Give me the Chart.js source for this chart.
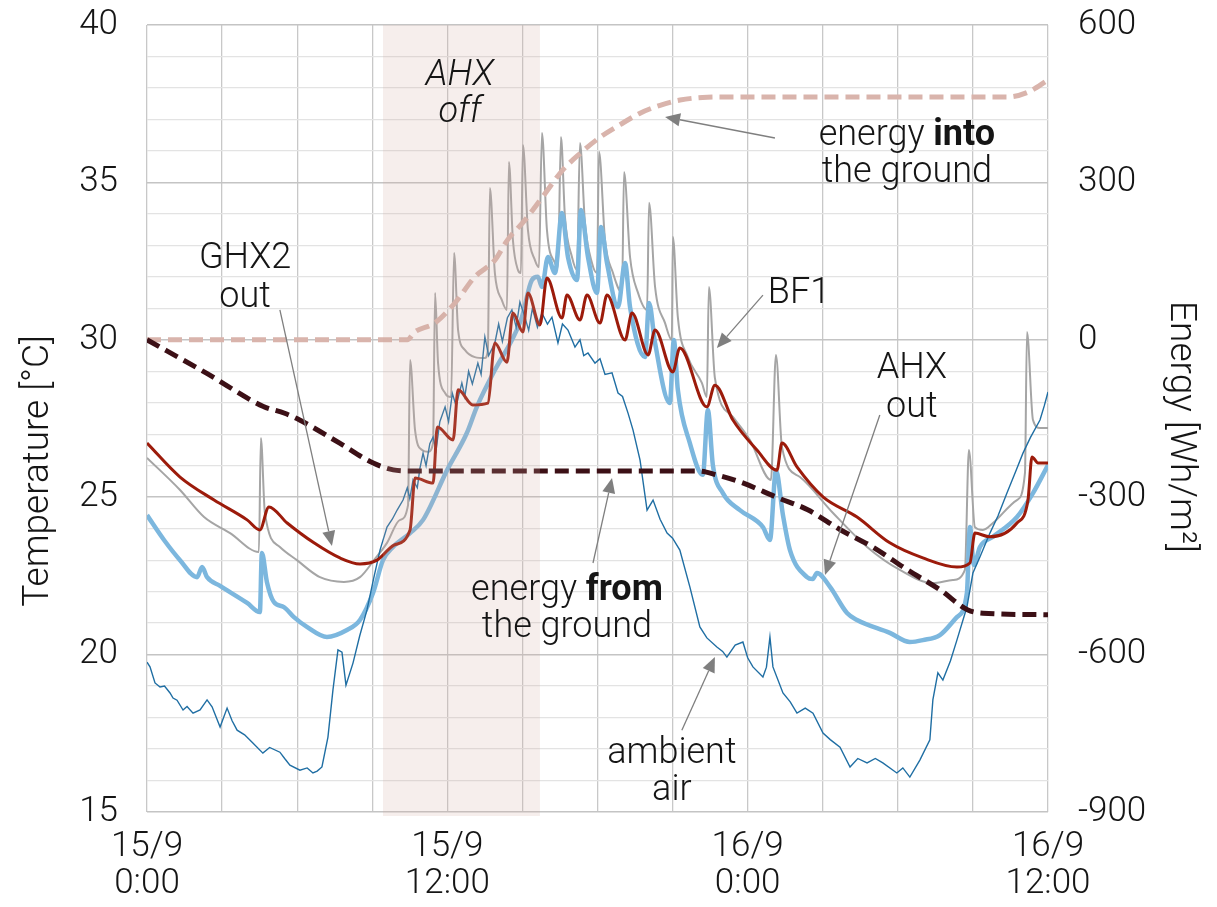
<!DOCTYPE html>
<html>
<head>
<meta charset="utf-8">
<script src="https://cdn.jsdelivr.net/npm/chart.js@4.4.0/dist/chart.umd.min.js"></script>
<style>
  html, body { margin: 0; background: #fff; }
  #wrap { width: 1217px; height: 907px; }
</style>
</head>
<body>
<div id="wrap"><canvas id="myChart" width="1217" height="907"></canvas></div>
<script>
// x values are hours since 15/9 0:00
var tickHours = [0, 12, 24, 36];
var tickDates = ['15/9', '15/9', '16/9', '16/9'];
var tickTimes = ['0:00', '12:00', '0:00', '12:00'];

// AHX switched off (hours)
var ahxOffStart = 9.43;
var ahxOffEnd = 15.7;

// ambient air [°C]
var airHours = [0, 0.12, 0.32, 0.52, 0.7, 0.92, 1.04, 1.2, 1.44, 1.6, 1.84, 2.12, 2.4, 2.6, 2.92, 3.2, 3.4, 3.6, 3.9, 4.23,
  4.63, 4.9, 5.31, 5.5, 5.71, 6.11, 6.4, 6.63, 6.8, 6.99, 7.23, 7.43, 7.63, 7.79, 7.95, 8.23, 8.5, 8.79, 9.05, 9.31,
  9.59, 9.8, 10.0, 10.23, 10.4, 10.5, 10.63, 10.8, 10.9, 11.03, 11.15, 11.3, 11.43, 11.55, 11.7, 11.91, 12.05, 12.2, 12.35, 12.58,
  12.7, 12.85, 13.0, 13.22, 13.35, 13.5, 13.65, 13.9, 14.05, 14.2, 14.4, 14.58, 14.75, 14.9, 15.1, 15.25, 15.4, 15.6, 15.78, 16.0,
  16.18, 16.42, 16.6, 16.82, 17.1, 17.3, 17.45, 17.62, 17.9, 18.1, 18.3, 18.58, 18.82, 19.0, 19.22, 19.42, 19.7, 19.98, 20.22, 20.5,
  20.78, 21.0, 21.29, 21.69, 22.09, 22.37, 22.77, 23.0, 23.17, 23.5, 23.81, 24.0, 24.21, 24.61, 24.75, 24.89, 25.01, 25.41, 25.7, 25.97,
  26.3, 26.61, 27.01, 27.3, 27.69, 28.09, 28.4, 28.77, 29.1, 29.4, 29.96, 30.2, 30.48, 30.88, 31.28, 31.4, 31.6, 31.8, 32.1, 32.36,
  32.76, 33.0, 33.28, 33.68, 34.0, 34.36, 34.7, 35.0, 35.3, 35.68, 35.85, 36];
var airTemp = [19.76, 19.61, 19.1, 18.97, 19.0, 18.78, 18.62, 18.55, 18.24, 18.35, 18.14, 18.24, 18.56, 18.34, 17.7, 18.3, 17.9, 17.6, 17.45, 17.19,
  16.87, 17.05, 16.9, 16.7, 16.49, 16.33, 16.4, 16.24, 16.3, 16.43, 17.38, 18.88, 20.15, 20.08, 19.03, 19.73, 20.6, 21.42, 22.4, 23.32,
  24.05, 24.3, 24.6, 24.91, 25.3, 24.95, 25.55, 25.3, 25.9, 26.4, 26.0, 26.7, 26.91, 26.5, 27.4, 27.87, 27.4, 28.3, 27.9, 28.63,
  28.2, 29.0, 28.6, 29.26, 28.9, 30.09, 29.5, 29.9, 30.5, 29.95, 30.7, 30.95, 30.4, 31.2, 30.72, 30.3, 31.0, 30.4, 30.85, 30.5,
  30.72, 29.9, 30.5, 30.31, 29.77, 30.0, 29.5, 29.58, 29.26, 29.4, 28.9, 28.95, 28.31, 28.2, 27.67, 27.13, 26.18, 24.59, 24.91, 24.3,
  23.86, 23.7, 23.32, 22.15, 20.88, 20.53, 20.24, 20.1, 19.92, 20.3, 20.4, 19.9, 19.61, 19.29, 19.6, 20.56, 19.61, 18.78, 18.5, 18.14,
  18.3, 18.14, 17.51, 17.3, 17.06, 16.43, 16.7, 16.56, 16.7, 16.56, 16.24, 16.4, 16.11, 16.65, 17.29, 18.56, 19.42, 19.19, 19.8, 20.46,
  21.51, 22.59, 23.1, 23.86, 24.4, 25.13, 25.8, 26.4, 26.9, 27.45, 27.9, 28.34];

// AHX out [°C]
var ahxHours = [0, 0.68, 1.32, 2.0, 2.2, 2.4, 2.92, 4.0, 4.51, 4.59, 4.79, 5.07, 5.47, 5.87, 6.39, 7.19, 7.99, 8.51, 9.03, 9.43,
  9.83, 10.51, 11.03, 11.99, 12.78, 13.18, 13.9, 14.58, 14.98, 15.38, 15.62, 15.78, 16.02, 16.3, 16.58, 16.82, 17.18, 17.34, 17.62, 17.98,
  18.14, 18.38, 18.82, 19.1, 19.3, 19.9, 20.06, 20.3, 20.89, 21.05, 21.21, 21.69, 22.21, 22.41, 22.61, 23.01, 23.69, 24.61, 24.89, 25.13,
  25.41, 25.69, 26.37, 26.6, 26.77, 27.29, 27.97, 28.37, 29.68, 30.48, 31.0, 31.68, 32.36, 32.76, 32.88, 33.04, 33.28, 33.8, 34.76, 35.4, 36];
var ahxTemp = [24.43, 23.64, 23.0, 22.46, 22.78, 22.46, 22.18, 21.64, 21.35, 23.23, 22.31, 21.67, 21.51, 21.19, 20.88, 20.56, 20.78, 21.1, 21.96, 23.0,
  23.42, 23.86, 24.28, 25.86, 27.04, 27.87, 29.04, 29.99, 30.72, 31.9, 32.0, 31.68, 32.63, 32.12, 34.03, 32.63, 31.9, 34.12, 32.63, 31.49,
  33.58, 32.44, 31.04, 32.44, 31.04, 29.45, 31.17, 29.9, 27.99, 29.99, 28.41, 26.72, 25.71, 27.77, 26.02, 25.13, 24.59, 24.05, 23.64, 25.86,
  24.43, 23.32, 22.46, 22.4, 22.59, 22.15, 21.32, 21.1, 20.69, 20.4, 20.46, 20.62, 21.19, 21.96, 24.05, 22.85, 23.42, 23.74, 24.37, 25.13, 26.02];

// BF1 [°C]
var bf1Hours = [0, 1.32, 2.28, 3.32, 4.47, 4.55, 4.71, 5.31, 5.99, 6.91, 7.87, 8.51, 9.07, 9.59, 10.11, 10.43, 10.51, 10.71, 10.99, 11.23,
  11.43, 11.51, 11.63, 11.91, 12.15, 12.27, 12.43, 12.7, 13.1, 13.5, 13.62, 13.7, 13.9, 14.18, 14.38, 14.46, 14.62, 14.82, 14.94, 15.02,
  15.22, 15.5, 15.66, 15.78, 15.98, 16.3, 16.42, 16.54, 16.7, 16.98, 17.18, 17.3, 17.5, 17.78, 17.98, 18.06, 18.3, 18.62, 18.98, 19.06,
  19.3, 19.62, 19.98, 20.06, 20.3, 20.7, 20.97, 21.01, 21.21, 21.61, 22.17, 22.37, 22.45, 22.69, 23.41, 24.09, 24.93, 25.13, 25.37, 26.09,
  27.41, 28.77, 30.08, 31.4, 32.2, 32.68, 32.84, 33.08, 33.4, 33.8, 34.76, 35.08, 35.16, 35.4, 35.68, 36];
var bf1Temp = [26.25, 25.23, 24.37, 23.86, 23.26, 26.88, 24.5, 23.42, 23.0, 22.46, 22.31, 22.46, 23.0, 23.55, 24.28, 24.75, 29.36, 27.13, 26.5, 26.44,
  26.72, 31.49, 29.26, 28.31, 28.18, 32.76, 30.31, 29.68, 29.45, 29.42, 29.68, 34.82, 32.12, 31.26, 30.95, 35.65, 33.17, 32.22, 32.12, 36.19,
  33.49, 32.53, 32.31, 36.57, 33.49, 32.44, 32.31, 36.44, 33.9, 32.63, 32.22, 36.25, 33.71, 32.44, 32.12, 35.97, 33.17, 32.12, 31.49, 35.33,
  32.63, 31.49, 30.95, 34.35, 31.68, 30.53, 29.99, 33.27, 30.72, 29.45, 28.63, 28.18, 31.68, 28.79, 27.55, 26.82, 25.55, 29.52, 26.59, 25.64,
  24.5, 23.42, 22.69, 22.27, 22.37, 22.69, 26.5, 24.05, 23.96, 24.18, 24.91, 25.77, 30.25, 27.45, 27.2, 27.2];

// GHX2 out [°C]
var ghxHours = [0, 1.32, 2.68, 4.0, 4.51, 4.87, 5.6, 6.67, 7.71, 8.51, 9.19, 9.87, 10.51, 10.71, 11.43, 11.6, 12.23, 12.43, 13.02, 13.62,
  13.9, 14.38, 14.62, 15.02, 15.22, 15.7, 15.98, 16.58, 16.78, 17.3, 17.58, 18.1, 18.38, 19.1, 19.38, 20.02, 20.3, 21.01, 21.29, 22.37,
  22.69, 23.41, 24.37, 25.17, 25.37, 25.97, 27.01, 28.37, 29.68, 31.0, 32.36, 32.88, 33.08, 33.68, 34.76, 35.2, 35.36, 35.6, 36];
var ghxTemp = [26.72, 25.64, 24.91, 24.28, 23.96, 24.69, 24.18, 23.55, 23.07, 22.88, 23.0, 23.48, 23.96, 25.61, 25.45, 27.23, 26.82, 28.41, 27.93, 27.99,
  29.9, 29.29, 30.85, 30.25, 31.49, 30.47, 31.96, 30.69, 31.42, 30.63, 31.42, 30.53, 31.42, 29.99, 30.85, 29.52, 30.31, 28.98, 29.74, 27.87,
  28.56, 27.45, 26.5, 25.86, 26.72, 25.96, 25.01, 24.37, 23.55, 23.07, 22.78, 22.91, 23.86, 23.74, 24.18, 24.91, 26.28, 26.09, 26.09];

// energy into the ground [Wh/m2]
var intoHours = [0, 10.4, 10.7, 11.5, 12.3, 13.1, 13.9, 14.4, 15.1, 15.8, 16.6, 17.3, 18.1, 18.9, 19.7, 20.5, 21.3, 22.2, 23.0, 34.4, 35.2, 36];
var intoEnergy = [0, 0, 15, 32, 70, 120, 152, 190, 228, 272, 323, 355, 386, 410, 432, 447, 457, 462, 463, 463, 472, 495];

// energy from the ground [Wh/m2]
var fromHours = [0, 2.39, 4.65, 5.5, 6.1, 7.7, 9.04, 9.84, 10.5, 22.0, 22.8, 23.7, 25.2, 26.4, 27.7, 29.0, 30.4, 31.7, 32.8, 33.4, 36];
var fromEnergy = [0, -64, -127, -140, -153, -197, -235, -248, -250, -250, -258, -271, -301, -324, -362, -395, -439, -477, -515, -521, -524];

var FONT = "Roboto, 'Liberation Sans', sans-serif";
var TXT = '#151515';

function pts(xs, ys) {
  var out = [];
  for (var i = 0; i < xs.length; i++) {
    out.push({x: xs[i], y: ys[i]});
  }
  return out;
}

// labels drawn on the plot, anchored in data units (hours, °C)
var notes = [
  {h: 12.5, t: 38.09, parts: [['AHX', 'italic 300']]},
  {h: 12.5, t: 36.92, parts: [['off', 'italic 300']]},
  {h: 3.92, t: 32.28, parts: [['GHX2', '300']]},
  {h: 3.92, t: 31.04, parts: [['out', '300']]},
  {h: 30.36, t: 36.19, parts: [['energy ', '300'], ['into', '700']]},
  {h: 30.36, t: 35.01, parts: [['the ground', '300']]},
  {h: 26.05, t: 31.17, parts: [['BF1', '300']]},
  {h: 30.56, t: 28.79, parts: [['AHX', '300']]},
  {h: 30.56, t: 27.55, parts: [['out', '300']]},
  {h: 16.78, t: 21.73, parts: [['energy ', '300'], ['from', '700']]},
  {h: 16.78, t: 20.56, parts: [['the ground', '300']]},
  {h: 20.97, t: 16.56, parts: [['ambient', '300']]},
  {h: 20.97, t: 15.38, parts: [['air', '300']]}
];

var arrows = [
  {from: [5.31, 30.95], to: [7.39, 23.45]},
  {from: [25.09, 36.41], to: [20.7, 37.08]},
  {from: [24.61, 31.42], to: [22.77, 29.74]},
  {from: [29.28, 27.61], to: [27.09, 22.53]},
  {from: [17.82, 22.91], to: [18.58, 25.61]},
  {from: [21.37, 17.6], to: [22.69, 19.92]}
];

var shadePlugin = {
  id: 'shade',
  afterDatasetsDraw: function(chart) {
    var ctx = chart.ctx;
    var xs = chart.scales.x;
    var area = chart.chartArea;
    var x0 = xs.getPixelForValue(ahxOffStart);
    var x1 = xs.getPixelForValue(ahxOffEnd);
    ctx.save();
    ctx.fillStyle = 'rgba(211,172,162,0.2)';
    ctx.fillRect(x0, area.top, x1 - x0, area.bottom - area.top + 4);
    ctx.restore();
  }
};

var notesPlugin = {
  id: 'notes',
  afterDraw: function(chart) {
    var ctx = chart.ctx;
    var xs = chart.scales.x;
    var ys = chart.scales.y;
    ctx.save();
    ctx.fillStyle = TXT;
    ctx.textBaseline = 'alphabetic';
    ctx.textAlign = 'left';
    notes.forEach(function(n) {
      var total = 0;
      n.parts.forEach(function(p) {
        ctx.font = p[1] + ' 36px ' + FONT;
        total += ctx.measureText(p[0]).width;
      });
      var x = xs.getPixelForValue(n.h) - total / 2;
      var y = ys.getPixelForValue(n.t);
      n.parts.forEach(function(p) {
        ctx.font = p[1] + ' 36px ' + FONT;
        ctx.fillText(p[0], x, y);
        x += ctx.measureText(p[0]).width;
      });
    });

    // arrows
    ctx.strokeStyle = '#7f7f7f';
    ctx.fillStyle = '#7f7f7f';
    ctx.lineWidth = 1.3;
    arrows.forEach(function(a) {
      var x1 = xs.getPixelForValue(a.from[0]), y1 = ys.getPixelForValue(a.from[1]);
      var x2 = xs.getPixelForValue(a.to[0]), y2 = ys.getPixelForValue(a.to[1]);
      var ang = Math.atan2(y2 - y1, x2 - x1);
      var len = 15, half = 6.5;
      var bx = x2 - len * Math.cos(ang), by = y2 - len * Math.sin(ang);
      ctx.beginPath();
      ctx.moveTo(x1, y1);
      ctx.lineTo(bx, by);
      ctx.stroke();
      ctx.beginPath();
      ctx.moveTo(x2, y2);
      ctx.lineTo(bx + half * Math.sin(ang), by - half * Math.cos(ang));
      ctx.lineTo(bx - half * Math.sin(ang), by + half * Math.cos(ang));
      ctx.closePath();
      ctx.fill();
    });

    // axis titles
    ctx.fillStyle = TXT;
    ctx.font = '300 37px ' + FONT;
    ctx.textAlign = 'center';
    ctx.textBaseline = 'middle';
    ctx.save();
    ctx.translate(39, 471);
    ctx.rotate(-Math.PI / 2);
    ctx.fillText('Temperature [°C]', 0, 0);
    ctx.restore();
    ctx.save();
    ctx.translate(1180, 427);
    ctx.rotate(Math.PI / 2);
    ctx.fillText('Energy [Wh/m²]', 0, 0);
    ctx.restore();
    ctx.restore();
  }
};

var tickFont = {family: FONT, size: 35, weight: '300', lineHeight: 1.08};

function fixWidth(w) {
  return function(scale) {
    scale.width = w;
    scale.paddingTop = 0;
    scale.paddingBottom = 0;
  };
}

var ctx = document.getElementById('myChart');
var chart = new Chart(ctx, {
  type: 'line',
  data: {
    datasets: [
      {
        label: 'energy from the ground',
        yAxisID: 'y2',
        data: pts(fromHours, fromEnergy),
        borderColor: '#3c1016',
        borderWidth: 5,
        borderDash: [14, 7],
        cubicInterpolationMode: 'monotone',
        pointRadius: 0
      },
      {
        label: 'energy into the ground',
        yAxisID: 'y2',
        data: pts(intoHours, intoEnergy),
        borderColor: '#d9b4ac',
        borderWidth: 5,
        borderDash: [14, 7],
        cubicInterpolationMode: 'monotone',
        pointRadius: 0
      },
      {
        label: 'GHX2 out',
        data: pts(ghxHours, ghxTemp),
        borderColor: '#9c1b0b',
        borderWidth: 3,
        cubicInterpolationMode: 'monotone',
        pointRadius: 0
      },
      {
        label: 'ambient air',
        data: pts(airHours, airTemp),
        borderColor: '#1f6ea3',
        borderWidth: 1.4,
        tension: 0,
        pointRadius: 0
      },
      {
        label: 'AHX out',
        data: pts(ahxHours, ahxTemp),
        borderColor: '#7cb7de',
        borderWidth: 4.5,
        cubicInterpolationMode: 'monotone',
        pointRadius: 0
      },
      {
        label: 'BF1',
        data: pts(bf1Hours, bf1Temp),
        borderColor: '#a5a5a5',
        borderWidth: 2,
        cubicInterpolationMode: 'monotone',
        pointRadius: 0
      }
    ]
  },
  options: {
    responsive: false,
    animation: false,
    devicePixelRatio: 1,
    layout: {padding: {top: 25, left: 0, right: 0, bottom: 0}},
    plugins: {
      legend: {display: false},
      tooltip: {enabled: false}
    },
    scales: {
      x: {
        type: 'linear',
        min: 0,
        max: 36,
        afterFit: function(scale) {
          scale.height = 95;
          scale.paddingLeft = 0;
          scale.paddingRight = 0;
        },
        ticks: {
          stepSize: 3,
          autoSkip: false,
          maxRotation: 0,
          padding: 16,
          color: TXT,
          font: tickFont,
          callback: function(v) {
            var i = tickHours.indexOf(v);
            return i < 0 ? '' : [tickDates[i], tickTimes[i]];
          }
        },
        grid: {color: '#c8c8c8', lineWidth: 1.3, drawTicks: false},
        border: {display: false}
      },
      y: {
        position: 'left',
        min: 15,
        max: 40,
        afterFit: fixWidth(147),
        ticks: {
          stepSize: 1,
          autoSkip: false,
          padding: 29,
          color: TXT,
          font: tickFont,
          callback: function(v) { return v % 5 === 0 ? v : ''; }
        },
        grid: {
          drawTicks: false,
          color: function(c) { return c.tick.value % 5 === 0 ? '#c4c4c4' : '#e3e3e3'; },
          lineWidth: function(c) { return c.tick.value % 5 === 0 ? 1.5 : 1.3; }
        },
        border: {display: false}
      },
      y2: {
        position: 'right',
        min: -900,
        max: 600,
        afterFit: fixWidth(169),
        ticks: {
          stepSize: 300,
          autoSkip: false,
          padding: 30,
          color: TXT,
          font: tickFont
        },
        grid: {display: false, drawTicks: false},
        border: {display: false}
      }
    }
  },
  plugins: [shadePlugin, notesPlugin]
});
</script>
</body>
</html>
